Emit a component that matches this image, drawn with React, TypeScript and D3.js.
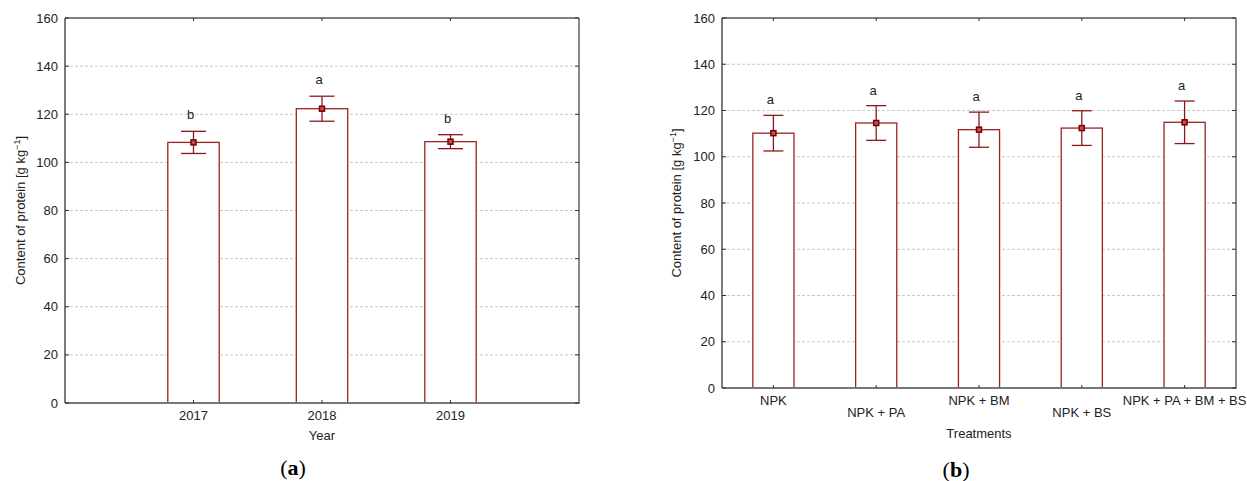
import React from "react";
import * as d3 from "d3";

// Panel (a): by year
const years = ["2017", "2018", "2019"];
const yearMeans = [108.3, 122.3, 108.6];
const yearErrs = [4.6, 5.2, 2.9];
const yearLetters = ["b", "a", "b"];

// Panel (b): by treatment
const treatments = ["NPK", "NPK + PA", "NPK + BM", "NPK + BS", "NPK + PA + BM + BS"];
const treatMeans = [110.2, 114.6, 111.7, 112.4, 114.9];
const treatErrs = [7.7, 7.5, 7.6, 7.5, 9.2];
const treatLetters = ["a", "a", "a", "a", "a"];

const yTicks = [0, 20, 40, 60, 80, 100, 120, 140, 160];

const FONT = "Liberation Sans, Arial, sans-serif";
const FS = 13;
const BAR = "#9b2323";
const ERR = "#8b1a1a";

type PanelProps = {
  left: number;
  right: number;
  top: number;
  bottom: number;
  cats: string[];
  means: number[];
  errs: number[];
  letters: string[];
  xTitle: string;
  xTitleY: number;
  yTitleX: number;
  capW: number;
  barFrac: number;
  usePoint: boolean;
  stagger: boolean;
  panelLabel: string;
  panelLabelX: number;
  panelLabelY: number;
  letterGap: number;
};

function Panel(p: PanelProps) {
  const y = d3.scaleLinear().domain([0, 160]).range([p.bottom, p.top]);
  let xc: (c: string) => number;
  let step: number;
  if (p.usePoint) {
    const s = d3.scalePoint<string>().domain(p.cats).range([p.left, p.right]).padding(1);
    xc = (c) => s(c) as number;
    step = s.step();
  } else {
    const s = d3.scaleBand<string>().domain(p.cats).range([p.left, p.right]).padding(0);
    xc = (c) => (s(c) as number) + s.bandwidth() / 2;
    step = s.step();
  }
  const bw = step * p.barFrac;
  return (
    <g>
      {yTicks.filter((t) => t > 0 && t < 160).map((t) => (
        <line key={"g" + t} x1={p.left} x2={p.right} y1={y(t)} y2={y(t)} stroke="#c8c8c8" strokeWidth={1} strokeDasharray="3,2" />
      ))}
      {p.cats.map((c, i) => (
        <rect key={"b" + c} x={xc(c) - bw / 2} y={y(p.means[i])} width={bw} height={p.bottom - y(p.means[i])} fill="#ffffff" stroke={BAR} strokeWidth={1.3} />
      ))}
      {p.cats.map((c, i) => {
        const x = xc(c);
        const hi = y(p.means[i] + p.errs[i]);
        const lo = y(p.means[i] - p.errs[i]);
        return (
          <g key={"e" + c} stroke={ERR} strokeWidth={1.3}>
            <line x1={x} x2={x} y1={hi} y2={lo} />
            <line x1={x - p.capW / 2} x2={x + p.capW / 2} y1={hi} y2={hi} />
            <line x1={x - p.capW / 2} x2={x + p.capW / 2} y1={lo} y2={lo} />
            <rect x={x - 2.5} y={y(p.means[i]) - 2.5} width={5} height={5} fill="#c05050" stroke="#7a0000" strokeWidth={1.5} />
          </g>
        );
      })}
      {p.cats.map((c, i) => (
        <text key={"l" + c} x={xc(c) - 3} y={y(p.means[i] + p.errs[i]) - p.letterGap} fontSize={FS} fontFamily={FONT} fill="#222" textAnchor="middle">
          {p.letters[i]}
        </text>
      ))}
      <line x1={p.left} x2={p.right} y1={p.top} y2={p.top} stroke="#000" strokeWidth={1} />
      <line x1={p.left} x2={p.left} y1={p.top} y2={p.bottom} stroke="#222" strokeWidth={1.2} />
      <line x1={p.right} x2={p.right} y1={p.top} y2={p.bottom + 1} stroke="#888" strokeWidth={2} />
      <line x1={p.left} x2={p.right} y1={p.bottom} y2={p.bottom} stroke="#777" strokeWidth={2} />
      {yTicks.map((t) => (
        <g key={"t" + t}>
          <line x1={p.left} x2={p.left + 4} y1={y(t)} y2={y(t)} stroke="#333" />
          <line x1={p.right - 4} x2={p.right} y1={y(t)} y2={y(t)} stroke="#333" />
          <text x={p.left - 7} y={y(t) + 4.5} fontSize={FS} fontFamily={FONT} fill="#222" textAnchor="end">{t}</text>
        </g>
      ))}
      {p.cats.map((c, i) => (
        <g key={"x" + c}>
          <line x1={xc(c)} x2={xc(c)} y1={p.bottom} y2={p.bottom - 3} stroke="#333" />
          <line x1={xc(c)} x2={xc(c)} y1={p.top} y2={p.top + 3} stroke="#333" />
          <text x={xc(c)} y={p.bottom + 17 + (p.stagger && i % 2 === 1 ? 12 : 0)} fontSize={FS} fontFamily={FONT} fill="#222" textAnchor="middle">{c}</text>
        </g>
      ))}
      <text x={(p.left + p.right) / 2} y={p.xTitleY} fontSize={FS} fontFamily={FONT} fill="#222" textAnchor="middle">{p.xTitle}</text>
      <text transform={`translate(${p.yTitleX},${(p.top + p.bottom) / 2}) rotate(-90)`} fontSize={FS} fontFamily={FONT} fill="#222" textAnchor="middle">
        Content of protein [g kg<tspan dy={-5} fontSize={9}>−1</tspan><tspan dy={5}>]</tspan>
      </text>
      <text x={p.panelLabelX} y={p.panelLabelY} fontSize={22} fontFamily="Liberation Serif, DejaVu Serif, serif" fill="#000" textAnchor="middle">
        (<tspan fontWeight="bold">{p.panelLabel}</tspan>)
      </text>
    </g>
  );
}

export default function App() {
  return (
    <svg width={1247} height={481} style={{ position: "absolute", left: 0, top: 0, background: "#fff" }}>
      <rect x={0} y={0} width={1247} height={481} fill="#fff" />
      <Panel
        left={65} right={579} top={18} bottom={403}
        cats={years} means={yearMeans} errs={yearErrs} letters={yearLetters}
        xTitle="Year" xTitleY={440} yTitleX={25} capW={25} barFrac={0.4}
        usePoint={true} stagger={false} panelLabel="a" panelLabelX={293} panelLabelY={475}
        letterGap={12}
      />
      <Panel
        left={722} right={1236} top={18} bottom={388}
        cats={treatments} means={treatMeans} errs={treatErrs} letters={treatLetters}
        xTitle="Treatments" xTitleY={438} yTitleX={681} capW={20} barFrac={0.4}
        usePoint={false} stagger={true} panelLabel="b" panelLabelX={956} panelLabelY={477}
        letterGap={11}
      />
    </svg>
  );
}
